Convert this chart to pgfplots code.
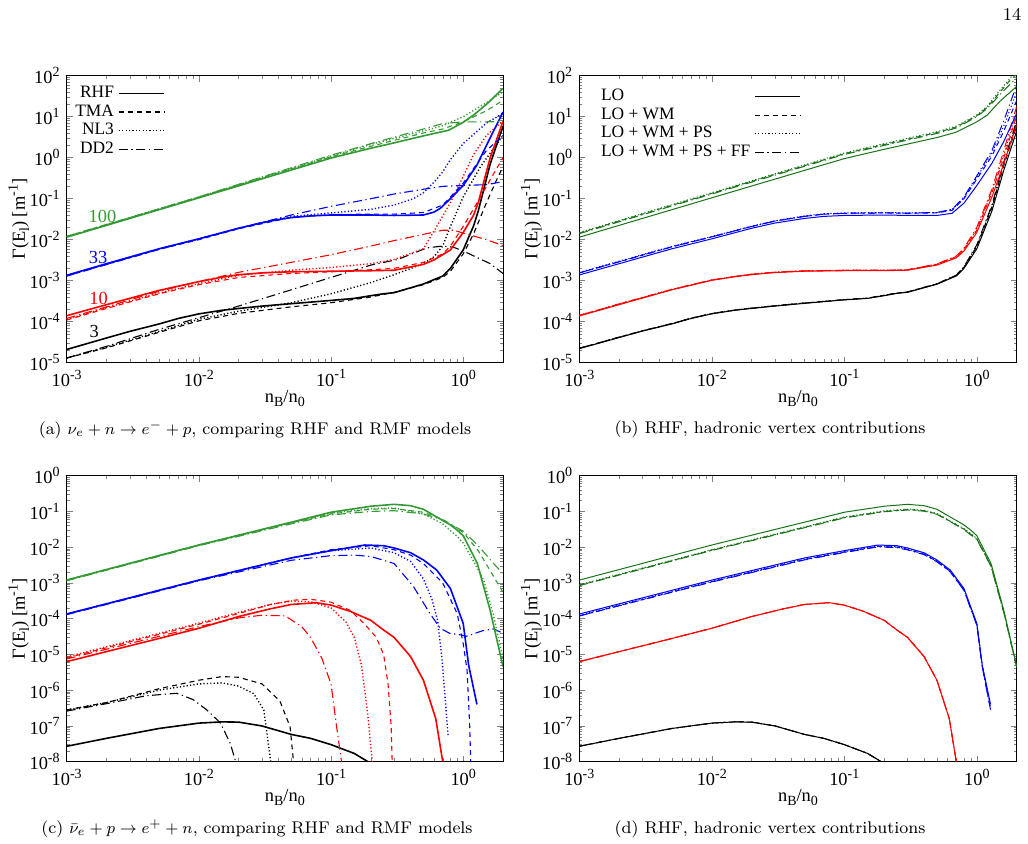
\documentclass[border=0pt]{standalone}
\usepackage{fontspec}
\usepackage{pgfplots}
\usepackage{pgfplotstable}
\pgfplotsset{compat=1.18}
\newfontfamily\tnr{Liberation Serif}
\definecolor{ga}{rgb}{0.2,0.6,0.2}
\definecolor{gb}{rgb}{0.1,0.45,0.1}
\tikzset{
 pdash/.style={dash pattern=on 2.5pt off 2pt},
 pdot/.style={dash pattern=on 0.6pt off 1.1pt, line width=0.7pt},
 pdd/.style={dash pattern=on 4.5pt off 1.8pt on 0.6pt off 1.8pt},
}
\newcommand\af{\tnr\fontsize{9.2}{10}\selectfont}
\newcommand\lf{\tnr\fontsize{8.7}{10}\selectfont}
\newcommand\sps[1]{\raisebox{0.4em}{\fontsize{7}{7}\selectfont #1}}
\newcommand\sbs[1]{\raisebox{-0.22em}{\fontsize{7}{7}\selectfont #1}}
\newcommand\ylab{Γ(E\sbs{l}) [m\sps{-1}]}
\newcommand\xlab{n\sbs{B}/n\sbs{0}}
% panel (c) RHF curves, reused in (d)
\pgfplotstableread{
x y
0.001 1.2e-3
0.01 1.15e-2
0.05 5e-2
0.1 0.095
0.2 0.14
0.3 0.158
0.4 0.145
0.5 0.115
0.63 0.07
0.8 0.042
0.9 0.03
1 0.021
1.28 3.5e-3
1.6 1.7e-4
2 4.6e-6
}\cRg
\pgfplotstableread{
x y
0.001 1.35e-4
0.01 1.2e-3
0.05 5e-3
0.1 8e-3
0.18 1.15e-2
0.25 1.1e-2
0.3 9.5e-3
0.4 7e-3
0.5 4.4e-3
0.63 2.3e-3
0.8 7e-4
1 7.4e-5
1.1 5e-6
1.27 4e-7
}\cRb
\pgfplotstableread{
x y
0.001 6.3e-6
0.002 1.2e-5
0.005 2.8e-5
0.01 5.4e-5
0.02 1.15e-4
0.035 1.9e-4
0.05 2.5e-4
0.077 2.8e-4
0.1 2.4e-4
0.14 1.6e-4
0.2 9e-5
0.25 4.8e-5
0.3 3e-5
0.4 8.7e-6
0.5 1.9e-6
0.62 1.6e-7
0.7 1e-8
}\cRr
\pgfplotstableread{
x y
0.001 2.7e-8
0.002 4.5e-8
0.005 8.5e-8
0.01 1.2e-7
0.015 1.3e-7
0.02 1.28e-7
0.03 1e-7
0.05 5.8e-8
0.07 4.5e-8
0.1 3e-8
0.15 1.7e-8
0.19 1e-8
}\cRk
\begin{document}
\begin{tikzpicture}
\path[use as bounding box] (0,0) rectangle (514pt,422pt);
\node[font=\fontsize{9}{10}\selectfont] at (506pt,415pt) {14};
\node[font=\fontsize{8.45}{10}\selectfont] at (127.5pt,207pt) {(a) $\nu_e+n\rightarrow e^-+p$, comparing RHF and RMF models};
\node[font=\fontsize{8.45}{10}\selectfont] at (385pt,207.5pt) {(b) RHF, hadronic vertex contributions};
\node[font=\fontsize{8.45}{10}\selectfont] at (128.5pt,7.5pt) {(c) $\bar{\nu}_e+p\rightarrow e^++n$, comparing RHF and RMF models};
\node[font=\fontsize{8.45}{10}\selectfont] at (385pt,7.5pt) {(d) RHF, hadronic vertex contributions};

% ---------------- (a)
\begin{axis}[at={(33.35pt,240.65pt)}, anchor=south west, width=218.15pt, height=143.5pt,
   scale only axis, xmode=log, ymode=log,
   xmin=1e-3, xmax=2, ymin=1e-5, ymax=100,
   xtick={1e-3,1e-2,1e-1,1},
   xticklabels={10\sps{-3},10\sps{-2},10\sps{-1},10\sps{0}},
   minor xtick={2e-3,3e-3,4e-3,5e-3,6e-3,7e-3,8e-3,9e-3,2e-2,3e-2,4e-2,5e-2,6e-2,7e-2,8e-2,9e-2,0.2,0.3,0.4,0.5,0.6,0.7,0.8,0.9},
   ytick={1e-5,1e-4,1e-3,1e-2,1e-1,1,10,100},
   yticklabels={10\sps{-5},10\sps{-4},10\sps{-3},10\sps{-2},10\sps{-1},10\sps{0},10\sps{1},10\sps{2}},
   minor ytick={2e-5,3e-5,4e-5,5e-5,6e-5,7e-5,8e-5,9e-5,2e-4,3e-4,4e-4,5e-4,6e-4,7e-4,8e-4,9e-4,2e-3,3e-3,4e-3,5e-3,6e-3,7e-3,8e-3,9e-3,2e-2,3e-2,4e-2,5e-2,6e-2,7e-2,8e-2,9e-2,0.2,0.3,0.4,0.5,0.6,0.7,0.8,0.9,2,3,4,5,6,7,8,9,20,30,40,50,60,70,80,90},
   tick align=inside, major tick length=3pt, minor tick length=1.6pt,
   tick label style={font=\af}, label style={font=\af},
   xlabel={\xlab}, ylabel={\ylab},
   xlabel style={at={(axis description cs:0.5,-0.125)}, anchor=center},
   ylabel style={at={(axis description cs:-0.11,0.5)}, anchor=center},
   every axis plot/.append style={line width=0.55pt},
  legend style={draw=none, fill=none, at={(0.005,0.985)}, anchor=north west, font=\lf, row sep=-2pt, inner sep=1pt},
  legend cell align=right, legend plot pos=right,
  legend image code/.code={\draw[#1] (0cm,0cm) -- (0.8cm,0cm);}]
\addplot[black, line width=0.8pt] coordinates {(0.001,2.1e-5)(0.002,4e-5)(0.003,5.8e-5)(0.005,8.8e-5)(0.007,1.2e-4)(0.01,1.55e-4)(0.015,1.9e-4)(0.02,2.1e-4)(0.03,2.4e-4)(0.05,2.75e-4)(0.1,3.3e-4)(0.15,3.7e-4)(0.2,4.3e-4)(0.25,4.8e-4)(0.3,5.1e-4)(0.5,8.3e-4)(0.7,1.3e-3)(0.8,2e-3)(1,5.6e-3)(1.2,2.2e-2)(1.3,5e-2)(1.6,0.7)(2,5.8)};
\addlegendentry{RHF}
\addplot[black, pdash] coordinates {(0.001,1.3e-5)(0.002,2.3e-5)(0.005,5.5e-5)(0.01,1.05e-4)(0.02,1.6e-4)(0.05,2.3e-4)(0.1,2.9e-4)(0.2,4e-4)(0.3,5.2e-4)(0.5,8e-4)(0.7,1.2e-3)(0.8,1.7e-3)(1,4.5e-3)(1.2,1.4e-2)(1.5,8e-2)(1.8,0.3)(2,0.6)};
\addlegendentry{TMA}
\addplot[black, pdot] coordinates {(0.001,1.3e-5)(0.002,2.4e-5)(0.005,5.8e-5)(0.01,1.15e-4)(0.02,1.8e-4)(0.05,2.9e-4)(0.1,4.8e-4)(0.2,9e-4)(0.3,1.4e-3)(0.5,2.6e-3)(0.6,3.8e-3)(0.7,7e-3)(0.8,2.1e-2)(1,0.11)(1.35,0.6)(2,3.5)};
\addlegendentry{NL3}
\addplot[black, pdd] coordinates {(0.001,1.3e-5)(0.002,2.5e-5)(0.005,6.5e-5)(0.01,1.25e-4)(0.02,2.4e-4)(0.05,6e-4)(0.1,1.2e-3)(0.2,2.4e-3)(0.32,3.3e-3)(0.53,6.3e-3)(0.7,7e-3)(0.85,6.5e-3)(1,5.3e-3)(1.6,2.6e-3)(2,1.5e-3)};
\addlegendentry{DD2}
\addplot[red, line width=0.8pt, forget plot] coordinates {(0.001,1.4e-4)(0.002,2.6e-4)(0.005,5.8e-4)(0.01,9.5e-4)(0.015,1.22e-3)(0.02,1.4e-3)(0.03,1.55e-3)(0.05,1.65e-3)(0.1,1.7e-3)(0.2,1.75e-3)(0.3,1.8e-3)(0.5,2.5e-3)(0.6,3.2e-3)(0.8,5.6e-3)(1,1.5e-2)(1.2,4e-2)(1.3,8e-2)(1.6,1)(2,7.6)};
\addplot[red, pdash, forget plot] coordinates {(0.001,1.1e-4)(0.002,2.1e-4)(0.005,4.8e-4)(0.01,8e-4)(0.02,1.2e-3)(0.05,1.5e-3)(0.1,1.65e-3)(0.2,1.85e-3)(0.3,2e-3)(0.5,2.8e-3)(0.7,4.5e-3)(0.8,7e-3)(1,2.1e-2)(1.27,7.8e-2)(1.6,0.29)(2,1.0)};
\addplot[red, pdot, forget plot] coordinates {(0.001,1.15e-4)(0.002,2.2e-4)(0.005,5e-4)(0.01,8.5e-4)(0.02,1.35e-3)(0.05,1.8e-3)(0.1,2.1e-3)(0.2,2.6e-3)(0.3,3.3e-3)(0.5,6e-3)(0.63,2.1e-2)(0.8,8e-2)(1,0.35)(1.2,1.2)(1.5,3.5)(2,8)};
\addplot[red, pdd, forget plot] coordinates {(0.001,1.2e-4)(0.002,2.3e-4)(0.005,5.5e-4)(0.01,9.5e-4)(0.02,1.6e-3)(0.05,2.8e-3)(0.1,4.3e-3)(0.2,7e-3)(0.3,9.5e-3)(0.5,1.35e-2)(0.7,1.7e-2)(0.85,1.7e-2)(1,1.45e-2)(1.5,1e-2)(2,7.2e-3)};
\addplot[blue, line width=0.8pt, forget plot] coordinates {(0.001,1.35e-3)(0.002,2.6e-3)(0.005,6e-3)(0.01,1.05e-2)(0.02,1.9e-2)(0.03,2.6e-2)(0.04,3.1e-2)(0.05,3.45e-2)(0.07,3.8e-2)(0.1,4e-2)(0.2,4e-2)(0.3,3.9e-2)(0.5,4e-2)(0.6,4.7e-2)(0.67,5.8e-2)(0.8,0.1)(1,0.21)(1.27,0.66)(1.5,2)(2,13)};
\addplot[blue, pdash, forget plot] coordinates {(0.001,1.3e-3)(0.002,2.5e-3)(0.005,5.8e-3)(0.01,1.0e-2)(0.02,1.85e-2)(0.05,3.5e-2)(0.1,4.1e-2)(0.2,4.2e-2)(0.3,4.2e-2)(0.5,4.6e-2)(0.7,7e-2)(0.8,0.11)(1,0.24)(1.2,0.55)(1.5,1.5)(2,3.5)};
\addplot[blue, pdot, forget plot] coordinates {(0.001,1.35e-3)(0.005,6e-3)(0.01,1.05e-2)(0.02,1.9e-2)(0.05,3.7e-2)(0.1,4.5e-2)(0.2,5.5e-2)(0.3,7e-2)(0.42,0.1)(0.5,0.14)(0.6,0.25)(0.7,0.45)(0.8,0.9)(1,2.2)(1.5,7)(2,12)};
\addplot[blue, pdd, forget plot] coordinates {(0.001,1.3e-3)(0.005,5.8e-3)(0.01,1.05e-2)(0.02,1.9e-2)(0.05,4e-2)(0.1,6.5e-2)(0.2,0.1)(0.3,0.13)(0.5,0.17)(0.7,0.2)(1,0.21)(1.5,0.22)(2,0.26)};
\addplot[ga, line width=0.8pt, forget plot] coordinates {(0.001,1.15e-2)(0.01,0.105)(0.1,0.98)(0.2,1.7)(0.3,2.3)(0.5,3.4)(0.78,4.7)(1,7.3)(1.2,11)(1.5,20)(2,49)};
\addplot[ga, pdash, forget plot] coordinates {(0.001,1.2e-2)(0.01,0.11)(0.1,1.05)(0.2,1.9)(0.5,4)(0.7,5)(1,7.5)(1.5,14)(2,25)};
\addplot[ga, pdot, forget plot] coordinates {(0.001,1.2e-2)(0.01,0.11)(0.1,1.1)(0.2,2.1)(0.5,4.5)(0.7,6)(1,10)(1.5,22)(2,40)};
\addplot[ga, pdd, forget plot] coordinates {(0.001,1.2e-2)(0.01,0.11)(0.1,1.15)(0.2,2.2)(0.5,5)(0.7,6.8)(1,7.5)(1.5,7.5)(2,7.6)};
\node[font=\af, text=ga] at (rel axis cs:0.082,0.511) {100};
\node[font=\af, text=blue] at (rel axis cs:0.072,0.366) {33};
\node[font=\af, text=red] at (rel axis cs:0.073,0.224) {10};
\node[font=\af, text=black] at (rel axis cs:0.063,0.108) {3};
\end{axis}

% ---------------- (b)
\begin{axis}[at={(289.65pt,240.65pt)}, anchor=south west, width=218.7pt, height=143.5pt,
   scale only axis, xmode=log, ymode=log,
   xmin=1e-3, xmax=2, ymin=1e-5, ymax=100,
   xtick={1e-3,1e-2,1e-1,1},
   xticklabels={10\sps{-3},10\sps{-2},10\sps{-1},10\sps{0}},
   minor xtick={2e-3,3e-3,4e-3,5e-3,6e-3,7e-3,8e-3,9e-3,2e-2,3e-2,4e-2,5e-2,6e-2,7e-2,8e-2,9e-2,0.2,0.3,0.4,0.5,0.6,0.7,0.8,0.9},
   ytick={1e-5,1e-4,1e-3,1e-2,1e-1,1,10,100},
   yticklabels={10\sps{-5},10\sps{-4},10\sps{-3},10\sps{-2},10\sps{-1},10\sps{0},10\sps{1},10\sps{2}},
   minor ytick={2e-5,3e-5,4e-5,5e-5,6e-5,7e-5,8e-5,9e-5,2e-4,3e-4,4e-4,5e-4,6e-4,7e-4,8e-4,9e-4,2e-3,3e-3,4e-3,5e-3,6e-3,7e-3,8e-3,9e-3,2e-2,3e-2,4e-2,5e-2,6e-2,7e-2,8e-2,9e-2,0.2,0.3,0.4,0.5,0.6,0.7,0.8,0.9,2,3,4,5,6,7,8,9,20,30,40,50,60,70,80,90},
   tick align=inside, major tick length=3pt, minor tick length=1.6pt,
   tick label style={font=\af}, label style={font=\af},
   xlabel={\xlab}, ylabel={\ylab},
   xlabel style={at={(axis description cs:0.5,-0.125)}, anchor=center},
   ylabel style={at={(axis description cs:-0.11,0.5)}, anchor=center},
   every axis plot/.append style={line width=0.5pt},
  legend style={draw=none, fill=none, at={(0.035,0.975)}, anchor=north west, font=\lf, row sep=-2pt, inner sep=1pt},
  legend cell align=left, legend plot pos=right,
  legend image code/.code={\draw[#1] (0cm,0cm) -- (0.8cm,0cm);}]
\addplot[black] coordinates {(0.001,2.2e-5)(0.002,4.1e-5)(0.003,5.9e-5)(0.005,8.8e-5)(0.007,1.2e-4)(0.01,1.55e-4)(0.015,1.9e-4)(0.02,2.1e-4)(0.03,2.4e-4)(0.05,2.8e-4)(0.1,3.4e-4)(0.15,3.7e-4)(0.2,4.3e-4)(0.25,4.9e-4)(0.3,5.2e-4)(0.5,8.2e-4)(0.7,1.3e-3)(0.8,2e-3)(1,6e-3)(1.3,5e-2)(1.6,0.5)(2,4.5)};
\addlegendentry{LO}
\addplot[black, pdash] coordinates {(0.001,2.25e-5)(0.002,4.2e-5)(0.003,6e-5)(0.005,9e-5)(0.007,1.22e-4)(0.01,1.58e-4)(0.015,1.93e-4)(0.02,2.15e-4)(0.03,2.45e-4)(0.05,2.85e-4)(0.1,3.45e-4)(0.15,3.75e-4)(0.2,4.4e-4)(0.25,5e-4)(0.3,5.3e-4)(0.5,8.4e-4)(0.7,1.35e-3)(0.8,2.1e-3)(1,6.8e-3)(1.3,6e-2)(1.6,0.65)(2,6)};
\addlegendentry{LO + WM}
\addplot[black, pdot, line width=0.5pt] coordinates {(0.001,2.25e-5)(0.002,4.2e-5)(0.003,6e-5)(0.005,9e-5)(0.007,1.22e-4)(0.01,1.58e-4)(0.015,1.93e-4)(0.02,2.15e-4)(0.03,2.45e-4)(0.05,2.85e-4)(0.1,3.45e-4)(0.15,3.75e-4)(0.2,4.4e-4)(0.25,5e-4)(0.3,5.3e-4)(0.5,8.4e-4)(0.7,1.36e-3)(0.8,2.15e-3)(1,7.2e-3)(1.3,6.5e-2)(1.6,0.72)(2,7)};
\addlegendentry{LO + WM + PS}
\addplot[black, pdd] coordinates {(0.001,2.25e-5)(0.002,4.2e-5)(0.003,6e-5)(0.005,9e-5)(0.007,1.22e-4)(0.01,1.58e-4)(0.015,1.93e-4)(0.02,2.15e-4)(0.03,2.45e-4)(0.05,2.85e-4)(0.1,3.45e-4)(0.15,3.75e-4)(0.2,4.4e-4)(0.25,5e-4)(0.3,5.3e-4)(0.5,8.4e-4)(0.7,1.37e-3)(0.8,2.2e-3)(1,7.5e-3)(1.3,7e-2)(1.6,0.8)(2,8)};
\addlegendentry{LO + WM + PS + FF}
\addplot[red, forget plot] coordinates {(0.001,1.38e-4)(0.002,2.6e-4)(0.005,6e-4)(0.01,1.02e-3)(0.015,1.25e-3)(0.02,1.4e-3)(0.03,1.58e-3)(0.05,1.7e-3)(0.1,1.75e-3)(0.2,1.75e-3)(0.3,1.8e-3)(0.5,2.4e-3)(0.7,3.6e-3)(0.8,5.3e-3)(1,1.5e-2)(1.3,0.11)(1.6,0.72)(2,6.5)};
\addplot[red, pdash, forget plot] coordinates {(0.001,1.42e-4)(0.002,2.7e-4)(0.005,6.1e-4)(0.01,1.04e-3)(0.015,1.27e-3)(0.02,1.43e-3)(0.03,1.6e-3)(0.05,1.73e-3)(0.1,1.78e-3)(0.2,1.78e-3)(0.3,1.83e-3)(0.5,2.5e-3)(0.7,3.8e-3)(0.8,5.7e-3)(1,1.7e-2)(1.3,0.14)(1.6,1.0)(2,11)};
\addplot[red, pdot, line width=0.5pt, forget plot] coordinates {(0.001,1.44e-4)(0.002,2.72e-4)(0.005,6.2e-4)(0.01,1.05e-3)(0.015,1.28e-3)(0.02,1.45e-3)(0.03,1.62e-3)(0.05,1.75e-3)(0.1,1.8e-3)(0.2,1.8e-3)(0.3,1.85e-3)(0.5,2.55e-3)(0.7,3.9e-3)(0.8,5.9e-3)(1,1.8e-2)(1.3,0.15)(1.6,1.2)(2,14)};
\addplot[red, pdd, forget plot] coordinates {(0.001,1.42e-4)(0.002,2.7e-4)(0.005,6.1e-4)(0.01,1.04e-3)(0.015,1.27e-3)(0.02,1.44e-3)(0.03,1.61e-3)(0.05,1.74e-3)(0.1,1.8e-3)(0.2,1.8e-3)(0.3,1.85e-3)(0.5,2.55e-3)(0.7,4e-3)(0.8,6.2e-3)(1,2e-2)(1.3,0.17)(1.6,1.5)(2,18)};
\addplot[blue, forget plot] coordinates {(0.001,1.38e-3)(0.002,2.6e-3)(0.005,6e-3)(0.01,1.05e-2)(0.02,1.9e-2)(0.03,2.55e-2)(0.05,3.3e-2)(0.07,3.7e-2)(0.1,3.9e-2)(0.2,4e-2)(0.3,3.9e-2)(0.5,3.9e-2)(0.65,4.4e-2)(0.8,7.8e-2)(1,0.21)(1.3,0.73)(1.6,2.5)(2,12)};
\addplot[blue, pdash, forget plot] coordinates {(0.001,1.55e-3)(0.002,2.9e-3)(0.005,6.7e-3)(0.01,1.17e-2)(0.02,2.1e-2)(0.03,2.85e-2)(0.05,3.7e-2)(0.07,4.2e-2)(0.1,4.4e-2)(0.2,4.5e-2)(0.3,4.4e-2)(0.5,4.5e-2)(0.65,5.2e-2)(0.8,0.1)(1,0.3)(1.3,1.1)(1.6,4.5)(2,25)};
\addplot[blue, pdot, line width=0.5pt, forget plot] coordinates {(0.001,1.6e-3)(0.002,3e-3)(0.005,6.9e-3)(0.01,1.2e-2)(0.02,2.15e-2)(0.03,2.9e-2)(0.05,3.8e-2)(0.07,4.3e-2)(0.1,4.5e-2)(0.2,4.6e-2)(0.3,4.5e-2)(0.5,4.6e-2)(0.65,5.4e-2)(0.8,0.105)(1,0.33)(1.3,1.3)(1.6,6)(2,40)};
\addplot[blue, pdd, forget plot] coordinates {(0.001,1.55e-3)(0.002,2.9e-3)(0.005,6.7e-3)(0.01,1.17e-2)(0.02,2.1e-2)(0.03,2.85e-2)(0.05,3.7e-2)(0.07,4.2e-2)(0.1,4.4e-2)(0.2,4.5e-2)(0.3,4.45e-2)(0.5,4.6e-2)(0.65,5.5e-2)(0.8,0.11)(1,0.36)(1.3,1.5)(1.6,8)(2,60)};
\addplot[gb, forget plot] coordinates {(0.001,1.15e-2)(0.01,0.105)(0.1,0.95)(0.2,1.6)(0.5,3.1)(0.7,4.2)(1,7.5)(1.2,11)(1.5,24)(2,55)};
\addplot[gb, pdash, forget plot] coordinates {(0.001,1.45e-2)(0.01,0.135)(0.1,1.25)(0.2,2.1)(0.5,4.1)(0.7,5.6)(1,10.5)(1.2,17)(1.5,40)(1.8,80)(2,110)};
\addplot[gb, pdot, line width=0.5pt, forget plot] coordinates {(0.001,1.5e-2)(0.01,0.14)(0.1,1.3)(0.2,2.2)(0.5,4.3)(0.7,5.9)(1,11)(1.2,18)(1.5,45)(1.8,90)(2,130)};
\addplot[gb, pdd, forget plot] coordinates {(0.001,1.4e-2)(0.01,0.13)(0.1,1.2)(0.2,2.0)(0.5,3.9)(0.7,5.3)(1,10)(1.2,16)(1.5,35)(2,90)};
\end{axis}

% ---------------- (c)
\begin{axis}[at={(33.35pt,41.15pt)}, anchor=south west, width=218.15pt, height=143pt,
   scale only axis, xmode=log, ymode=log,
   xmin=1e-3, xmax=2, ymin=1e-8, ymax=1,
   xtick={1e-3,1e-2,1e-1,1},
   xticklabels={10\sps{-3},10\sps{-2},10\sps{-1},10\sps{0}},
   minor xtick={2e-3,3e-3,4e-3,5e-3,6e-3,7e-3,8e-3,9e-3,2e-2,3e-2,4e-2,5e-2,6e-2,7e-2,8e-2,9e-2,0.2,0.3,0.4,0.5,0.6,0.7,0.8,0.9},
   ytick={1e-8,1e-7,1e-6,1e-5,1e-4,1e-3,1e-2,1e-1,1},
   yticklabels={10\sps{-8},10\sps{-7},10\sps{-6},10\sps{-5},10\sps{-4},10\sps{-3},10\sps{-2},10\sps{-1},10\sps{0}},
   minor ytick={2e-8,3e-8,4e-8,5e-8,6e-8,7e-8,8e-8,9e-8,2e-7,3e-7,4e-7,5e-7,6e-7,7e-7,8e-7,9e-7,2e-6,3e-6,4e-6,5e-6,6e-6,7e-6,8e-6,9e-6,2e-5,3e-5,4e-5,5e-5,6e-5,7e-5,8e-5,9e-5,2e-4,3e-4,4e-4,5e-4,6e-4,7e-4,8e-4,9e-4,2e-3,3e-3,4e-3,5e-3,6e-3,7e-3,8e-3,9e-3,2e-2,3e-2,4e-2,5e-2,6e-2,7e-2,8e-2,9e-2,0.2,0.3,0.4,0.5,0.6,0.7,0.8,0.9},
   tick align=inside, major tick length=3pt, minor tick length=1.6pt,
   tick label style={font=\af}, label style={font=\af},
   xlabel={\xlab}, ylabel={\ylab},
   xlabel style={at={(axis description cs:0.5,-0.125)}, anchor=center},
   ylabel style={at={(axis description cs:-0.11,0.5)}, anchor=center},
   every axis plot/.append style={line width=0.55pt}]
\addplot[black, line width=0.8pt] table {\cRk};
\addplot[black, pdash] coordinates {(0.001,2.8e-7)(0.002,4.5e-7)(0.005,1.1e-6)(0.01,1.9e-6)(0.015,2.4e-6)(0.02,2.3e-6)(0.03,1.5e-6)(0.041,5e-7)(0.049,9.5e-8)(0.052,1e-8)};
\addplot[black, pdot] coordinates {(0.001,2.8e-7)(0.002,4.5e-7)(0.005,1e-6)(0.01,1.5e-6)(0.015,1.6e-6)(0.02,1.3e-6)(0.026,8e-7)(0.031,2.8e-7)(0.035,1e-8)};
\addplot[black, pdd] coordinates {(0.001,2.6e-7)(0.002,4.2e-7)(0.004,7e-7)(0.0068,8.2e-7)(0.009,5.5e-7)(0.0115,2.8e-7)(0.0146,1.2e-7)(0.0173,3.2e-8)(0.019,1e-8)};
\addplot[red, line width=0.8pt] table {\cRr};
\addplot[red, pdash] coordinates {(0.001,8e-6)(0.01,7e-5)(0.02,1.4e-4)(0.035,2.5e-4)(0.052,3.3e-4)(0.07,3.5e-4)(0.1,2.9e-4)(0.14,1.7e-4)(0.18,7e-5)(0.22,3e-5)(0.25,1e-5)(0.27,1.5e-6)(0.285,1e-7)(0.29,1e-8)};
\addplot[red, pdot] coordinates {(0.001,8.5e-6)(0.01,7.5e-5)(0.02,1.5e-4)(0.035,2.5e-4)(0.05,3.1e-4)(0.07,3e-4)(0.1,2e-4)(0.13,8e-5)(0.15,3e-5)(0.17,5e-6)(0.19,2e-7)(0.205,1e-8)};
\addplot[red, pdd] coordinates {(0.001,7.5e-6)(0.01,6e-5)(0.02,1.05e-4)(0.03,1.25e-4)(0.045,1.2e-4)(0.06,6e-5)(0.07,3e-5)(0.085,8e-6)(0.1,1.5e-6)(0.11,1e-7)(0.12,1e-8)};
\addplot[blue, line width=0.8pt] table {\cRb};
\addplot[blue, pdash] coordinates {(0.001,1.35e-4)(0.01,1.2e-3)(0.05,5e-3)(0.1,8.5e-3)(0.2,1.1e-2)(0.3,8.5e-3)(0.4,6e-3)(0.5,3.5e-3)(0.7,1e-3)(0.9,1.4e-4)(1.0,2e-5)(1.07,3.6e-6)(1.12,1e-7)(1.14,1e-8)};
\addplot[blue, pdot] coordinates {(0.001,1.35e-4)(0.01,1.2e-3)(0.05,5e-3)(0.1,8e-3)(0.2,9.5e-3)(0.3,7e-3)(0.4,4e-3)(0.5,1.3e-3)(0.58,3.5e-4)(0.64,9e-5)(0.69,8e-6)(0.73,6e-7)(0.77,5e-8)};
\addplot[blue, pdd] coordinates {(0.001,1.3e-4)(0.01,1.15e-3)(0.05,4.3e-3)(0.1,5.8e-3)(0.15,6e-3)(0.2,5.5e-3)(0.3,3.5e-3)(0.42,8e-4)(0.56,1.4e-4)(0.67,5.4e-5)(0.79,3.9e-5)(0.97,3.5e-5)(1.05,3.2e-5)(1.4,4.6e-5)(1.7,5.2e-5)(2,3.9e-5)};
\addplot[ga, line width=0.8pt] table {\cRg};
\addplot[ga, pdash] coordinates {(0.001,1.2e-3)(0.01,1.15e-2)(0.05,4.8e-2)(0.1,0.085)(0.2,0.115)(0.3,0.12)(0.5,0.095)(0.7,0.06)(1,0.026)(1.3,8e-3)(1.6,2.2e-3)(2,5.5e-4)};
\addplot[ga, pdot] coordinates {(0.001,1.2e-3)(0.01,1.15e-2)(0.05,4.8e-2)(0.1,0.09)(0.2,0.12)(0.3,0.125)(0.5,0.085)(0.7,0.045)(0.9,0.02)(1,0.013)(1.2,4e-3)(1.43,1.2e-3)(1.7,1.2e-4)(2,8e-6)};
\addplot[ga, pdd] coordinates {(0.001,1.15e-3)(0.01,1.1e-2)(0.05,4.5e-2)(0.1,0.08)(0.2,0.1)(0.3,0.105)(0.5,0.085)(0.7,0.058)(1,0.028)(1.3,1.1e-2)(1.6,4.5e-3)(2,1.8e-3)};
\end{axis}

% ---------------- (d)
\begin{axis}[at={(289.65pt,41.15pt)}, anchor=south west, width=218.7pt, height=143pt,
   scale only axis, xmode=log, ymode=log,
   xmin=1e-3, xmax=2, ymin=1e-8, ymax=1,
   xtick={1e-3,1e-2,1e-1,1},
   xticklabels={10\sps{-3},10\sps{-2},10\sps{-1},10\sps{0}},
   minor xtick={2e-3,3e-3,4e-3,5e-3,6e-3,7e-3,8e-3,9e-3,2e-2,3e-2,4e-2,5e-2,6e-2,7e-2,8e-2,9e-2,0.2,0.3,0.4,0.5,0.6,0.7,0.8,0.9},
   ytick={1e-8,1e-7,1e-6,1e-5,1e-4,1e-3,1e-2,1e-1,1},
   yticklabels={10\sps{-8},10\sps{-7},10\sps{-6},10\sps{-5},10\sps{-4},10\sps{-3},10\sps{-2},10\sps{-1},10\sps{0}},
   minor ytick={2e-8,3e-8,4e-8,5e-8,6e-8,7e-8,8e-8,9e-8,2e-7,3e-7,4e-7,5e-7,6e-7,7e-7,8e-7,9e-7,2e-6,3e-6,4e-6,5e-6,6e-6,7e-6,8e-6,9e-6,2e-5,3e-5,4e-5,5e-5,6e-5,7e-5,8e-5,9e-5,2e-4,3e-4,4e-4,5e-4,6e-4,7e-4,8e-4,9e-4,2e-3,3e-3,4e-3,5e-3,6e-3,7e-3,8e-3,9e-3,2e-2,3e-2,4e-2,5e-2,6e-2,7e-2,8e-2,9e-2,0.2,0.3,0.4,0.5,0.6,0.7,0.8,0.9},
   tick align=inside, major tick length=3pt, minor tick length=1.6pt,
   tick label style={font=\af}, label style={font=\af},
   xlabel={\xlab}, ylabel={\ylab},
   xlabel style={at={(axis description cs:0.5,-0.125)}, anchor=center},
   ylabel style={at={(axis description cs:-0.11,0.5)}, anchor=center},
   every axis plot/.append style={line width=0.5pt}]
\addplot[black] table {\cRk};
\addplot[black, pdash] table {\cRk};
\addplot[black, pdd] table {\cRk};
\addplot[red] table {\cRr};
\addplot[red, pdash] table {\cRr};
\addplot[red, pdd] table {\cRr};
\addplot[blue] table {\cRb};
\addplot[blue, pdash] coordinates {(0.001,1.2e-4)(0.01,1.08e-3)(0.05,4.5e-3)(0.1,7.3e-3)(0.18,1.05e-2)(0.25,1e-2)(0.3,8.7e-3)(0.4,6.4e-3)(0.5,4e-3)(0.63,2.1e-3)(0.8,6.3e-4)(1,6.8e-5)(1.1,4.5e-6)(1.27,3e-7)};
\addplot[blue, pdot, line width=0.5pt] coordinates {(0.001,1.25e-4)(0.01,1.12e-3)(0.05,4.65e-3)(0.1,7.5e-3)(0.18,1.08e-2)(0.25,1.03e-2)(0.3,8.9e-3)(0.4,6.5e-3)(0.5,4.1e-3)(0.63,2.15e-3)(0.8,6.5e-4)(1,7e-5)(1.1,4.7e-6)(1.27,3.2e-7)};
\addplot[blue, pdd] coordinates {(0.001,1.19e-4)(0.01,1.06e-3)(0.05,4.4e-3)(0.1,7.1e-3)(0.18,1.02e-2)(0.25,9.7e-3)(0.3,8.4e-3)(0.4,6.2e-3)(0.5,3.9e-3)(0.63,2.05e-3)(0.8,6.2e-4)(1,6.5e-5)(1.1,4.4e-6)(1.27,2.8e-7)};
\addplot[gb] table {\cRg};
\addplot[gb, pdash] coordinates {(0.001,8.6e-4)(0.01,8.3e-3)(0.05,3.6e-2)(0.1,6.8e-2)(0.2,0.1)(0.3,0.113)(0.4,0.105)(0.5,0.085)(0.63,0.053)(0.8,0.032)(0.9,0.023)(1,0.017)(1.28,3e-3)(1.6,1.5e-4)(2,4.4e-6)};
\addplot[gb, pdot, line width=0.5pt] coordinates {(0.001,8.9e-4)(0.01,8.5e-3)(0.05,3.7e-2)(0.1,7e-2)(0.2,0.104)(0.3,0.117)(0.4,0.108)(0.5,0.088)(0.63,0.054)(0.8,0.033)(0.9,0.024)(1,0.0175)(1.28,3.1e-3)(1.6,1.55e-4)(2,4.5e-6)};
\addplot[gb, pdd] coordinates {(0.001,8.4e-4)(0.01,8.1e-3)(0.05,3.5e-2)(0.1,6.6e-2)(0.2,0.098)(0.3,0.11)(0.4,0.102)(0.5,0.083)(0.63,0.052)(0.8,0.031)(0.9,0.022)(1,0.0165)(1.28,2.9e-3)(1.6,1.45e-4)(2,4.3e-6)};
\end{axis}
\end{tikzpicture}
\end{document}
